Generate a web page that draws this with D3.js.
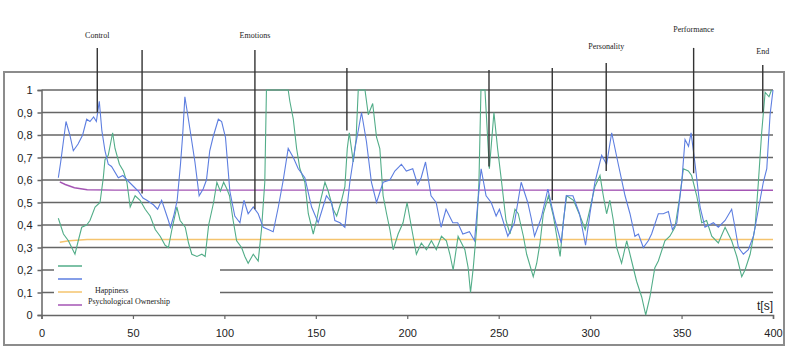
<!DOCTYPE html>
<html>
<head>
<meta charset="utf-8">
<script src="https://cdn.jsdelivr.net/npm/d3@7/dist/d3.min.js"></script>
<style>
  body { margin: 0; background: #fff; }
  #chart { width: 789px; height: 352px; }
</style>
</head>
<body>
<div id="chart"></div>
<script>
// values: [t in s, value]
const greenSeries = [[9.2,0.43],[12,0.36],[14.7,0.33],[16.5,0.30],[18.3,0.27],[20.1,0.33],[22,0.39],[24.7,0.40],[26.5,0.42],[29.3,0.48],[32,0.50],[33.8,0.61],[34.7,0.69],[36.5,0.71],[38.9,0.81],[40.2,0.74],[42.6,0.67],[44.8,0.64],[46.7,0.59],[48.5,0.48],[51.2,0.53],[53.9,0.51],[56.7,0.47],[59.4,0.44],[62.2,0.38],[64.9,0.35],[67.6,0.31],[69.4,0.30],[71.3,0.38],[74,0.48],[75.8,0.42],[78.6,0.39],[80.4,0.32],[82.2,0.27],[85,0.26],[87.7,0.27],[89.5,0.26],[91.4,0.40],[94.1,0.50],[95.9,0.59],[97.8,0.55],[99.6,0.59],[101.4,0.56],[102.8,0.53],[104.8,0.42],[106.7,0.33],[109.4,0.30],[111.2,0.26],[113,0.23],[115.8,0.27],[118.5,0.24],[120.3,0.38],[122.1,0.59],[123,1.0],[134.9,1.0],[135.8,0.95],[137.7,0.87],[139.5,0.74],[141.3,0.65],[144,0.59],[145.9,0.45],[148.6,0.36],[150.4,0.42],[152.3,0.50],[155,0.59],[156.8,0.55],[159.5,0.47],[161.4,0.44],[164.1,0.51],[165.9,0.57],[167.2,0.74],[168.3,0.81],[170.5,0.68],[172,0.78],[173.2,1.0],[176.9,1.0],[178.7,0.89],[181.1,0.94],[183.2,0.79],[185,0.74],[186.8,0.53],[188.7,0.45],[190.5,0.38],[192.3,0.29],[195,0.36],[197.7,0.41],[199.9,0.50],[202.3,0.39],[205,0.27],[207.7,0.32],[210.5,0.29],[213.2,0.33],[215.9,0.29],[218.7,0.35],[221.4,0.33],[223.3,0.27],[225.1,0.20],[227.8,0.35],[231.5,0.29],[233.3,0.21],[234.6,0.10],[236.1,0.21],[237.9,0.38],[239.2,0.59],[240.3,1.0],[242.5,1.0],[244.9,0.65],[247.4,0.90],[249.4,0.74],[251.6,0.59],[254,0.42],[256.2,0.36],[258.9,0.47],[260.7,0.45],[263.5,0.35],[265.3,0.27],[268.9,0.17],[270.8,0.23],[272.6,0.32],[274.4,0.45],[277.2,0.53],[279.9,0.44],[283.6,0.26],[285.4,0.42],[287.2,0.53],[290.9,0.51],[294.5,0.44],[297.3,0.38],[299.9,0.47],[302.6,0.57],[305.4,0.62],[307.2,0.53],[309,0.45],[310.8,0.51],[312.7,0.42],[314.5,0.30],[317.2,0.23],[320,0.33],[322.7,0.24],[325.4,0.15],[328.2,0.08],[330.4,0.0],[332.7,0.08],[335.4,0.21],[337.3,0.24],[340.9,0.33],[343.6,0.35],[346.4,0.39],[349.1,0.53],[351,0.65],[353.7,0.64],[355.5,0.62],[358.3,0.53],[361,0.41],[363.7,0.42],[366.5,0.35],[370.1,0.32],[373.8,0.39],[377.4,0.33],[380.2,0.26],[382.9,0.17],[384.7,0.20],[387.5,0.27],[390.2,0.39],[392,0.59],[393.8,0.81],[395.7,0.99],[397.8,0.97],[399.2,1.0]];

const blueSeries = [[9.2,0.61],[10.5,0.68],[13.4,0.86],[15.5,0.80],[17.4,0.73],[20,0.76],[22.5,0.80],[24.7,0.87],[26.5,0.86],[28.5,0.88],[30,0.86],[31.6,0.95],[33,0.82],[34.7,0.73],[36.5,0.67],[38.3,0.66],[42,0.61],[44.5,0.62],[46.8,0.60],[50.5,0.57],[53,0.55],[55.5,0.52],[57.6,0.51],[61.2,0.49],[63.5,0.47],[65.7,0.51],[69.4,0.42],[70.5,0.39],[72.3,0.44],[74.2,0.51],[76,0.67],[77.2,0.80],[78.4,0.97],[81.1,0.83],[83.9,0.68],[86.2,0.53],[88.4,0.56],[90.2,0.60],[92,0.73],[93.8,0.79],[96.7,0.87],[98.5,0.86],[100.6,0.79],[103,0.55],[105.7,0.44],[108.5,0.41],[110.7,0.51],[113,0.45],[115.8,0.48],[118.5,0.45],[121.2,0.39],[124,0.38],[126.7,0.37],[129.5,0.48],[132.2,0.60],[134.9,0.74],[137.7,0.70],[140.4,0.65],[144,0.61],[147.7,0.48],[151.3,0.41],[155.8,0.53],[158.6,0.50],[160.4,0.42],[163.2,0.41],[165.9,0.39],[168.6,0.59],[171.4,0.74],[175,0.90],[177.7,0.77],[180.4,0.59],[183.2,0.50],[186.8,0.59],[190.5,0.60],[193.2,0.64],[196.8,0.67],[199.5,0.64],[203,0.65],[205.7,0.58],[207.6,0.61],[210,0.68],[213,0.53],[215.8,0.50],[218.5,0.39],[221.2,0.47],[224.9,0.41],[227.6,0.41],[230.4,0.36],[234,0.37],[236.8,0.33],[238.6,0.50],[240.4,0.65],[243.1,0.53],[245.9,0.50],[248.6,0.44],[250.4,0.47],[255,0.35],[258.6,0.41],[262.3,0.59],[265.9,0.50],[267.8,0.43],[269.6,0.35],[273.2,0.43],[276.9,0.56],[280.5,0.43],[284.2,0.32],[286.9,0.53],[290.6,0.53],[294.2,0.45],[297.5,0.31],[299.9,0.45],[302.6,0.59],[306.3,0.71],[309,0.67],[311.8,0.81],[315.4,0.67],[319.1,0.53],[321.8,0.45],[324.5,0.35],[326.4,0.36],[329.1,0.30],[331.8,0.33],[333.6,0.36],[337.3,0.45],[340,0.45],[342.8,0.46],[345,0.38],[347.4,0.41],[350.1,0.59],[351.9,0.78],[353.8,0.75],[355.2,0.81],[357.4,0.67],[360.1,0.48],[362.8,0.39],[367.4,0.41],[370.1,0.39],[373.8,0.42],[377.4,0.47],[379.2,0.39],[381.1,0.30],[383.8,0.27],[386.5,0.29],[389.3,0.35],[392,0.47],[394.7,0.59],[396.6,0.65],[398.4,0.89],[400,1.0]];

const happiness = [[10,0.323],[15,0.33],[25,0.336],[400,0.336]];
const ownership = [[10,0.592],[13,0.58],[18,0.566],[25,0.557],[40,0.555],[400,0.555]];

// event markers (vertical lines) and their labels
const markerNames = ["Control", "", "Emotions", "", "", "", "Personality", "Performance", "End"];
const markerTimes = [30.5, 55, 116.7, 167, 244.7, 279.3, 308.8, 356.6, 394.4];
const markerBottom = [0.9, 0.54, 0.47, 0.82, 0.66, 0.51, 0.64, 0.63, 0.9];
const markerTop = [1.187, 1.178, 1.178, 1.098, 1.089, 1.098, 1.12, 1.187, 1.111];
const markerLabelY = [1.244, 0, 1.244, 0, 0, 0, 1.196, 1.271, 1.173];

const xTicks = [0, 50, 100, 150, 200, 250, 300, 350, 400];
const yTicks = [0, 0.1, 0.2, 0.3, 0.4, 0.5, 0.6, 0.7, 0.8, 0.9, 1];

const legendItems = [
  {name: "", color: "#52ad88"},
  {name: "", color: "#5d7ee0"},
  {name: "Happiness", color: "#f5c46e"},
  {name: "Psychological Ownership", color: "#a455b4"}
];

const width = 789, height = 352;
const gridColor = "#666";
const svg = d3.select("#chart").append("svg")
  .attr("width", width).attr("height", height);

const x = d3.scaleLinear().domain([0, 400]).range([41.5, 773]);
const y = d3.scaleLinear().domain([0, 1]).range([315, 90]);

// outer frame
svg.append("rect")
  .attr("x", 4).attr("y", 72).attr("width", 780).attr("height", 273)
  .attr("fill", "none").attr("stroke", "#8c8c8c").attr("stroke-width", 2);

// horizontal grid
svg.append("g").selectAll("line")
  .data(yTicks.filter(d => d > 0))
  .join("line")
  .attr("x1", x(0)).attr("x2", x(400))
  .attr("y1", d => y(d)).attr("y2", d => y(d))
  .attr("stroke", gridColor).attr("stroke-width", 1.5);

// y axis
const yAxis = svg.append("g")
  .attr("transform", `translate(${x(0)},0)`)
  .call(d3.axisLeft(y).tickValues(yTicks).tickSize(4).tickPadding(5)
    .tickFormat(d => d3.format(".1~f")(d).replace(".", ",")));
yAxis.select(".domain").attr("stroke", gridColor).attr("stroke-width", 1.5);
yAxis.selectAll(".tick line").attr("stroke", gridColor).attr("stroke-width", 1.5);
yAxis.selectAll("text")
  .style("font-family", "Liberation Sans, Arial, sans-serif")
  .style("font-size", "11px").attr("fill", "#222");

// x axis
const xAxis = svg.append("g")
  .attr("transform", `translate(0,${y(0)})`)
  .call(d3.axisBottom(x).tickValues(xTicks).tickSize(4).tickPadding(10));
xAxis.select(".domain").attr("stroke", gridColor).attr("stroke-width", 1.5);
xAxis.selectAll(".tick line").attr("stroke", gridColor).attr("stroke-width", 1.2);
xAxis.selectAll("text")
  .style("font-family", "Liberation Sans, Arial, sans-serif")
  .style("font-size", "11px").attr("fill", "#222");

svg.append("text")
  .attr("x", x(400)).attr("y", y(0) - 5)
  .attr("text-anchor", "end")
  .style("font-family", "Liberation Sans, Arial, sans-serif")
  .style("font-size", "12px").attr("fill", "#222")
  .text("t[s]");

// legend box hides part of the grid
const legend = svg.append("g");
legend.append("rect")
  .attr("x", 54).attr("y", 258).attr("width", 166).attr("height", 50)
  .attr("fill", "#fff");

const line = d3.line().x(d => x(d[0])).y(d => y(d[1]));

// flat reference series
svg.append("path").datum(happiness).attr("d", line)
  .attr("fill", "none").attr("stroke", legendItems[2].color).attr("stroke-width", 1.5);
svg.append("path").datum(ownership).attr("d", line)
  .attr("fill", "none").attr("stroke", legendItems[3].color).attr("stroke-width", 1.5);

svg.append("path").datum(greenSeries).attr("d", line)
  .attr("fill", "none").attr("stroke", legendItems[0].color).attr("stroke-width", 1.1);
svg.append("path").datum(blueSeries).attr("d", line)
  .attr("fill", "none").attr("stroke", legendItems[1].color).attr("stroke-width", 1.1);

// markers
const markers = svg.append("g").selectAll("g")
  .data(markerTimes.map((t, i) => ({t, name: markerNames[i], bottom: markerBottom[i], top: markerTop[i], ly: markerLabelY[i]})))
  .join("g");
markers.append("line")
  .attr("x1", d => x(d.t)).attr("x2", d => x(d.t))
  .attr("y1", d => y(d.top)).attr("y2", d => y(d.bottom))
  .attr("stroke", "#333").attr("stroke-width", 1.4);
markers.filter(d => d.name).append("text")
  .attr("x", d => x(d.t)).attr("y", d => y(d.ly) + 3)
  .attr("text-anchor", "middle")
  .style("font-family", "Liberation Serif, Times New Roman, serif")
  .style("font-size", "8px").attr("fill", "#222")
  .text(d => d.name);

// legend entries
const legendY = [266, 279, 292, 305];
const legendTextX = [0, 0, 95, 88];
const entries = legend.selectAll("g.entry")
  .data(legendItems)
  .join("g").attr("class", "entry");
entries.append("line")
  .attr("x1", 58).attr("x2", 82)
  .attr("y1", (d, i) => legendY[i]).attr("y2", (d, i) => legendY[i])
  .attr("stroke", d => d.color).attr("stroke-width", 1.5);
entries.filter(d => d.name).append("text")
  .attr("x", d => legendTextX[legendItems.indexOf(d)])
  .attr("y", d => legendY[legendItems.indexOf(d)] + (d.name === "Happiness" ? 1 : -1))
  .style("font-family", "Liberation Serif, Times New Roman, serif")
  .style("font-size", "8px").attr("fill", "#222")
  .text(d => d.name);
</script>
</body>
</html>
